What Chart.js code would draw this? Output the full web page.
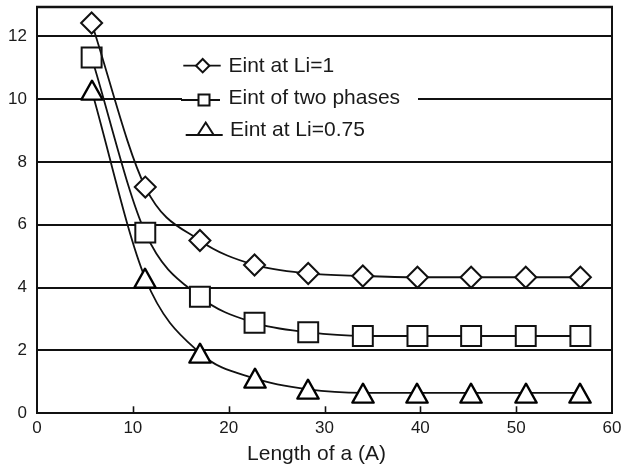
<!DOCTYPE html>
<html><head><meta charset="utf-8">
<script src="https://cdn.jsdelivr.net/npm/chart.js@4/dist/chart.umd.min.js"></script>
<style>html,body{margin:0;padding:0;background:#fff}#wrap{width:623px;height:468px}</style>
</head><body><div id="wrap"><canvas id="c" width="623" height="468"></canvas></div>
<script>
const lengthA = [5.7, 11.3, 17.0, 22.7, 28.3, 34.0, 39.7, 45.3, 51.0, 56.7];
const eintLi1 = [12.42, 7.2, 5.5, 4.72, 4.45, 4.37, 4.33, 4.33, 4.33, 4.33];
const eintTwoPhases = [11.32, 5.75, 3.71, 2.88, 2.58, 2.46, 2.46, 2.46, 2.46, 2.46];
const eintLi075 = [10.28, 4.29, 1.92, 1.11, 0.76, 0.65, 0.65, 0.65, 0.65, 0.65];
const seriesNames = ['Eint at Li=1', 'Eint of two phases', 'Eint at Li=0.75'];
const xTicks = [0, 10, 20, 30, 40, 50, 60];
const yTicks = [0, 2, 4, 6, 8, 10, 12];
const xTitle = 'Length of a (A)';

const INK = '#111';
const FONT = 'Liberation Sans, Arial, Helvetica, sans-serif';

function triCanvas(w, h, lw) {
  const c = document.createElement('canvas');
  c.width = w; c.height = h;
  const g = c.getContext('2d');
  g.lineWidth = lw; g.strokeStyle = '#000'; g.fillStyle = '#fff'; g.lineJoin = 'round';
  g.beginPath();
  g.moveTo(w / 2, lw / 2 + 0.5);
  g.lineTo(w - lw / 2 - 0.2, h - lw / 2 - 0.2);
  g.lineTo(lw / 2 + 0.2, h - lw / 2 - 0.2);
  g.closePath(); g.fill(); g.stroke();
  return c;
}
const triBig = triCanvas(24, 22, 2.3);

function pts(ys) { return lengthA.map((x, i) => ({ x: x, y: ys[i] })); }
function ds(label, ys, style, radius) {
  return {
    label: label, data: pts(ys), borderColor: INK, borderWidth: 1.8,
    cubicInterpolationMode: 'monotone', fill: false,
    pointStyle: style, pointRadius: radius, pointBorderWidth: 2,
    pointBorderColor: INK, pointBackgroundColor: '#fff'
  };
}

const framePlugin = {
  id: 'frame',
  beforeDatasetsDraw(chart) {
    const g = chart.ctx, a = chart.chartArea, xs = chart.scales.x;
    g.save();
    g.strokeStyle = INK;
    g.lineWidth = 1.6;
    xTicks.forEach(v => {
      if (v === xTicks[0] || v === xTicks[xTicks.length - 1]) return;
      const px = Math.round(xs.getPixelForValue(v)) + 0.5;
      g.beginPath(); g.moveTo(px, a.bottom); g.lineTo(px, a.bottom - 7); g.stroke();
    });
    g.lineWidth = 2;
    g.beginPath(); g.moveTo(a.right, a.top); g.lineTo(a.right, a.bottom); g.stroke();
    g.lineWidth = 2.6;
    g.beginPath(); g.moveTo(a.left - 1, a.top); g.lineTo(a.right + 1, a.top); g.stroke();
    // x-axis title, slightly left of centre as in the reference
    g.fillStyle = '#1a1a1a';
    g.font = '21px ' + FONT;
    g.textAlign = 'center';
    g.textBaseline = 'middle';
    g.fillText(xTitle, (a.left + a.right) / 2 - 8, 454);
    g.restore();
  },
  beforeDraw(chart) { chart.ctx.imageSmoothingEnabled = false; }
};

const legendPlugin = {
  id: 'customLegend',
  afterDraw(chart) {
    const g = chart.ctx;
    g.save();
    g.fillStyle = '#fff';
    g.fillRect(182, 47, 236, 104);
    const rows = [
      { y: 65.7, ty: 66.5, x0: 183.3, x1: 220.7, mx: 202.7, kind: 'diamond' },
      { y: 100, ty: 98.5, x0: 181, x1: 220, mx: 204, kind: 'square' },
      { y: 135, ty: 130, x0: 185.7, x1: 222.7, mx: 205.7, kind: 'tri' }
    ];
    g.strokeStyle = INK; g.fillStyle = INK;
    rows.forEach((r, i) => {
      g.lineWidth = 1.8;
      g.beginPath(); g.moveTo(r.x0, r.y); g.lineTo(r.x1, r.y); g.stroke();
      g.lineWidth = 2;
      g.fillStyle = '#fff';
      g.beginPath();
      if (r.kind === 'diamond') {
        const s = 6.7;
        g.moveTo(r.mx, r.y - s); g.lineTo(r.mx + s, r.y); g.lineTo(r.mx, r.y + s); g.lineTo(r.mx - s, r.y); g.closePath();
      } else if (r.kind === 'square') {
        g.rect(r.mx - 5.5, r.y - 5.5, 11, 11);
      } else {
        g.moveTo(r.mx, r.y - 12.5); g.lineTo(r.mx + 8, r.y); g.lineTo(r.mx - 8, r.y); g.closePath();
      }
      g.fill(); g.stroke();
      g.fillStyle = '#1a1a1a';
      g.font = '21px ' + FONT;
      g.textBaseline = 'middle';
      g.textAlign = 'left';
      g.fillText(seriesNames[i], i === 2 ? 230 : 228.5, r.ty);
    });
    g.restore();
  }
};

new Chart(document.getElementById('c').getContext('2d'), {
  type: 'line',
  data: {
    datasets: [
      ds(seriesNames[0], eintLi1, 'rectRot', 10.5),
      ds(seriesNames[1], eintTwoPhases, 'rect', 14.1),
      ds(seriesNames[2], eintLi075, triBig, 11)
    ]
  },
  options: {
    responsive: false, animation: false, events: [],
    layout: { autoPadding: false, padding: { top: 7, right: 11, left: 0, bottom: 0 } },
    scales: {
      x: {
        type: 'linear', min: 0, max: 60,
        afterBuildTicks: s => { s.ticks = xTicks.map(v => ({ value: v })); },
        afterFit: s => { s.height = 54.7; s.paddingLeft = 0; s.paddingRight = 0; },
        grid: { display: false, drawTicks: false },
        border: { display: true, color: INK, width: 2 },
        ticks: { padding: 5, color: '#1a1a1a', font: { family: FONT, size: 17 } },
        title: { display: false, text: xTitle }
      },
      y: {
        type: 'linear', min: 0, max: 12.93,
        afterBuildTicks: s => { s.ticks = yTicks.map(v => ({ value: v })); },
        afterFit: s => { s.width = 37; s.paddingTop = 0; s.paddingBottom = 0; },
        grid: { color: INK, lineWidth: 2, drawTicks: false },
        border: { display: true, color: INK, width: 2 },
        ticks: { padding: 10, color: '#1a1a1a', font: { family: FONT, size: 17 } }
      }
    },
    plugins: { legend: { display: false }, tooltip: { enabled: false } }
  },
  plugins: [framePlugin, legendPlugin]
});
</script>
</body></html>
